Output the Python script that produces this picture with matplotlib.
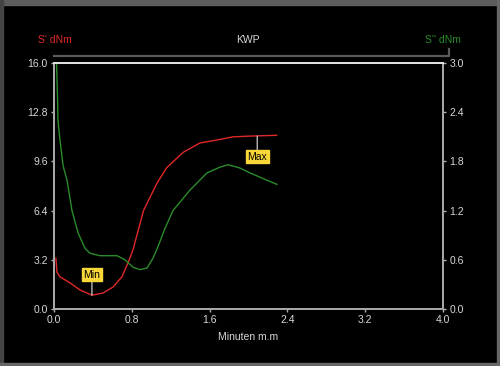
import matplotlib
matplotlib.use("Agg")
import matplotlib.pyplot as plt
from matplotlib.lines import Line2D
from matplotlib.patches import Rectangle

# S' (left axis, dNm)
red_t = [0.02, 0.03, 0.06, 0.165, 0.267, 0.39, 0.504, 0.607, 0.699, 0.761, 0.812,
         0.92, 1.06, 1.16, 1.33, 1.50, 1.68, 1.84, 2.02, 2.29]
red_v = [3.3, 2.4, 2.1, 1.7, 1.24, 0.9, 1.04, 1.43, 2.1, 3.0, 3.84,
         6.4, 8.2, 9.2, 10.2, 10.8, 11.0, 11.2, 11.25, 11.3]

# S'' (right axis, dNm)
green_t = [0.026, 0.036, 0.041, 0.062, 0.093, 0.134, 0.185, 0.247, 0.319, 0.37, 0.473,
           0.648, 0.73, 0.812, 0.884, 0.956, 1.018, 1.069, 1.14, 1.223, 1.398, 1.573,
           1.706, 1.789, 1.912, 2.015, 2.292]
green_v = [3.0, 2.6, 2.3, 2.06, 1.75, 1.57, 1.2, 0.93, 0.74, 0.68, 0.65,
           0.65, 0.6, 0.51, 0.48, 0.5, 0.62, 0.76, 0.98, 1.2, 1.45, 1.66,
           1.73, 1.76, 1.72, 1.66, 1.52]

xticks = [0.0, 0.8, 1.6, 2.4, 3.2, 4.0]
lticks = [0.0, 3.2, 6.4, 9.6, 12.8, 16.0]
rticks = [0.0, 0.6, 1.2, 1.8, 2.4, 3.0]

min_pt = (0.39, 0.9)
max_pt = (2.09, 11.25)

txt = "#d8d8d8"
red = "#e02828"
green = "#2a8c2a"
plt.rcParams['font.family'] = ['Liberation Sans', 'DejaVu Sans']

fig = plt.figure(figsize=(5.0, 3.66), dpi=100, facecolor="black")
ax = fig.add_axes([0.108, 0.1557, 0.778, 0.672], facecolor="black")
ax2 = ax.twinx()

ax.plot(red_t, red_v, color=red, lw=1.0)
ax2.plot(green_t, green_v, color=green, lw=1.0)

ax.set_xlim(0, 4.0)
ax.set_ylim(0, 16.0)
ax2.set_ylim(0, 3.0)
ax.set_xticks(xticks)
ax.set_xticklabels([f"{v:.1f}" for v in xticks])
ax.set_yticks(lticks)
ax.set_yticklabels([f"{v:.1f}" for v in lticks])
ax2.set_yticks(rticks)
ax2.set_yticklabels([f"{v:.1f}" for v in rticks])

for a in (ax, ax2):
    a.tick_params(colors="#b0b0b0", labelcolor=txt, labelsize=7.5, length=2.5, width=1, pad=2)
    for s in a.spines.values():
        s.set_color("#a8a8a8")
        s.set_linewidth(1.4)
    a.spines["top"].set_color("#e0e0e0")

ax.set_xlabel("Minuten m.m", color=txt, fontsize=7.5, labelpad=5)

box = dict(boxstyle="square,pad=0.15", fc="#f8d838", ec="#f8d838")
ax.annotate("Min", xy=min_pt, xytext=(0.39, 2.24), ha="center", va="center",
            fontsize=7.5, color="black", bbox=box,
            arrowprops=dict(arrowstyle="-", color="#b8b8b8", lw=1, shrinkA=0, shrinkB=0))
ax.annotate("Max", xy=max_pt, xytext=(2.09, 9.9), ha="center", va="center",
            fontsize=7.5, color="black", bbox=box,
            arrowprops=dict(arrowstyle="-", color="#b8b8b8", lw=1, shrinkA=0, shrinkB=0))

# header texts
fig.text(0.109, 0.891, "S' dNm", color=red, fontsize=7.5, ha="center", va="center")
fig.text(0.496, 0.891, "KWP", color=txt, fontsize=7.5, ha="center", va="center")
fig.text(0.886, 0.891, "S'' dNm", color=green, fontsize=7.5, ha="center", va="center")

# decoration line above plot
fig.add_artist(Line2D([0.108, 0.898, 0.898], [0.848, 0.848, 0.866],
                      color="#5a5a5a", lw=1.6, transform=fig.transFigure))

# window frame
fig.add_artist(Rectangle((0, 0.986), 1, 0.014, transform=fig.transFigure, color="#5c5c5c"))
fig.add_artist(Rectangle((0, 0), 0.005, 1, transform=fig.transFigure, color="#444444"))
fig.add_artist(Rectangle((0.993, 0), 0.007, 1, transform=fig.transFigure, color="#666666"))
fig.add_artist(Rectangle((0, 0), 1, 0.009, transform=fig.transFigure, color="#666666"))

fig.savefig("out.png", dpi=100, facecolor="black")
